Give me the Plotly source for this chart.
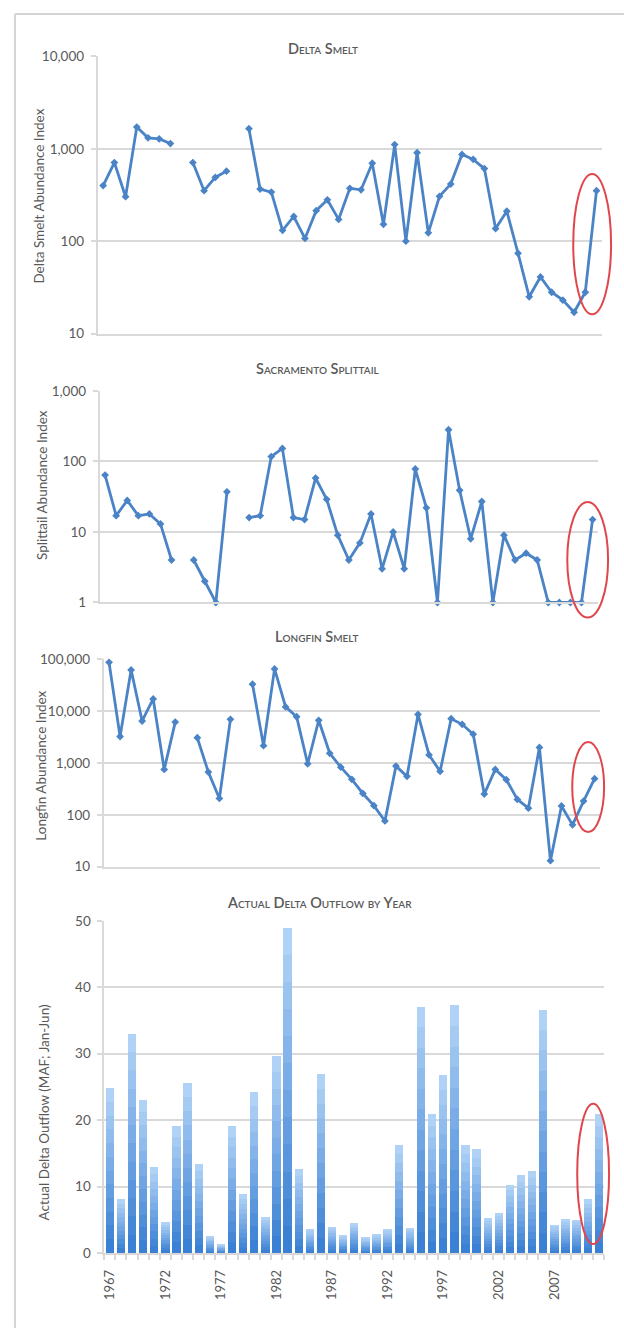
import plotly.graph_objects as go

# ---- data -------------------------------------------------------------
years = list(range(1967, 2012))

delta_smelt = [400, 710, 303, 1720, 1313, 1280, 1140, None, 710, 352, 490, 573, None,
               1650, 366, 340, 131, 185, 107, 214, 280, 172, 373, 360, 697, 152, 1110,
               100, 906, 123, 306, 415, 870, 769, 611, 137, 211, 74, 25, 41, 28, 23, 17,
               28, 352]

splittail = [64, 17, 28, 17, 18, 13, 4, None, 4, 2, 1, 37, None,
             16, 17, 117, 153, 16, 15, 58, 29, 9, 4, 7, 18, 3, 10,
             3, 78, 22, 1, 281, 39, 8, 27, 1, 9, 4, 5, 4, 1, 1, 1,
             1, 15]

longfin = [87700, 3250, 62700, 6470, 17260, 751, 6170, None, 3070, 668, 207, 6970, None,
           33300, 2160, 65500, 12100, 7820, 964, 6670, 1540, 832, 484, 258, 150, 76, 871,
           552, 8670, 1432, 689, 7160, 5580, 3600, 251, 751, 477, 198, 134, 2000, 13, 148,
           64, 184, 499]

outflow = [24.8, 8.1, 33.0, 23.1, 12.9, 4.6, 19.1, 25.6, 13.4, 2.5, 1.3, 19.1, 8.8,
           24.2, 5.4, 29.7, 49.0, 12.7, 3.6, 27.0, 3.9, 2.7, 4.5, 2.3, 2.8, 3.6, 16.3,
           3.7, 37.1, 20.9, 26.8, 37.3, 16.3, 15.6, 5.2, 6.0, 10.3, 11.7, 12.3, 36.6, 4.2,
           5.1, 5.0, 8.1, 20.9]

panel_titles = ["Delta Smelt", "Sacramento Splittail", "Longfin Smelt",
                "Actual Delta Outflow by Year"]
axis_titles = ["Delta Smelt Abundance Index", "Splittail Abundance Index",
               "Longfin Abundance Index", "Actual Delta Outflow (MAF; Jan-Jun)"]

smelt_ticks = [10, 100, 1000, 10000]
smelt_ticktext = ["10", "100", "1,000", "10,000"]
split_ticks = [1, 10, 100, 1000]
split_ticktext = ["1", "10", "100", "1,000"]
longfin_ticks = [10, 100, 1000, 10000, 100000]
longfin_ticktext = ["10", "100", "1,000", "10,000", "100,000"]
outflow_ticks = [0, 10, 20, 30, 40, 50]
year_ticks = list(range(1967, 2012, 5))

# ---- styling ----------------------------------------------------------
W, H = 624, 1336
FONT = "Lato"
GREY_TXT = "#595959"
GRID = "#d9d9d9"
LINE_BLUE = "#4a84c6"


def px_x(v):
    return v / W


def px_y(v):
    return 1 - v / H


# plot-area boxes in pixels: (left, right, top, bottom)
boxes = [
    (95, 602, 49, 329.5),
    (97, 598, 387.5, 601.7),
    (101, 600, 659.3, 869),
    (101.7, 604.3, 924, 1260),
]

fig = go.Figure()

line_series = [delta_smelt, splittail, longfin]
for i, series in enumerate(line_series):
    n = "" if i == 0 else str(i + 1)
    fig.add_trace(go.Scatter(
        x=years, y=series, mode="lines+markers",
        line=dict(color=LINE_BLUE, width=2.8),
        marker=dict(symbol="diamond", size=6, color=LINE_BLUE),
        connectgaps=False, cliponaxis=False, showlegend=False,
        xaxis="x" + n, yaxis="y" + n, hoverinfo="x+y",
    ))

# bars drawn as stacked slices to give each bar a vertical colour gradient
n_slices = 12
dark = (58, 128, 212)
light = (176, 210, 246)
for k in range(n_slices):
    t = k / (n_slices - 1)
    c = tuple(round(dark[j] + (light[j] - dark[j]) * t) for j in range(3))
    fig.add_trace(go.Bar(
        x=years, y=[v / n_slices for v in outflow],
        marker=dict(color="rgb(%d,%d,%d)" % c, line=dict(width=0)),
        showlegend=False, xaxis="x4", yaxis="y4", hoverinfo="skip",
    ))

layout = dict(
    width=W, height=H,
    margin=dict(l=0, r=0, t=0, b=0),
    paper_bgcolor="white", plot_bgcolor="white",
    font=dict(family=FONT, color=GREY_TXT, size=13),
    barmode="stack", bargap=0.25,
    showlegend=False,
)

y_specs = [
    dict(type="log", range=[1, 4], tickvals=smelt_ticks, ticktext=smelt_ticktext),
    dict(type="log", range=[0, 3], tickvals=split_ticks, ticktext=split_ticktext),
    dict(type="log", range=[1, 5], tickvals=longfin_ticks, ticktext=longfin_ticktext),
    dict(type="linear", range=[0, 50], tickvals=outflow_ticks),
]

for i, (l, r, t, b) in enumerate(boxes):
    n = "" if i == 0 else str(i + 1)
    xa = dict(
        domain=[px_x(l), px_x(r)], range=[1966.5, 2011.5],
        anchor="y" + n, showgrid=False, zeroline=False,
        showline=True, linecolor=GRID, linewidth=1.5,
        fixedrange=True,
    )
    if i < 3:
        xa.update(showticklabels=False, ticks="")
    else:
        xa.update(
            tickvals=year_ticks, ticktext=[str(y) for y in year_ticks],
            tickangle=-90, ticks="", ticklabelstandoff=10,
            tickfont=dict(size=13, color=GREY_TXT, family=FONT),
            minor=dict(tick0=0.5, dtick=1, ticks="outside", ticklen=5,
                       tickcolor=GRID, tickwidth=1.5, showgrid=False),
        )
    ya = dict(
        domain=[px_y(b), px_y(t)], anchor="x" + n,
        showgrid=True, gridcolor=GRID, gridwidth=1.5, zeroline=False,
        showline=True, linecolor=GRID, linewidth=1.5,
        ticks="outside", ticklen=5, tickcolor=GRID, tickwidth=1.5,
        tickfont=dict(size=13.5, color=GREY_TXT, family=FONT),
        ticklabelstandoff=4, fixedrange=True,
    )
    ya.update(y_specs[i])
    layout["xaxis" + n] = xa
    layout["yaxis" + n] = ya

fig.update_layout(**layout)

# panel titles (small caps) and rotated axis titles
title_pos = [(322, 41), (317, 365), (316, 636), (318, 905)]
ytitle_pos = [(36, 190), (39, 483), (38, 767), (41, 1118)]
for i in range(4):
    tx, ty = title_pos[i]
    fig.add_annotation(
        x=px_x(tx), y=px_y(ty), xref="paper", yref="paper",
        text=panel_titles[i], showarrow=False,
        xanchor="center", yanchor="middle",
        font=dict(family=FONT, size=14.5, color=GREY_TXT, variant="small-caps",
                  weight=600),
    )
    ax_, ay_ = ytitle_pos[i]
    fig.add_annotation(
        x=px_x(ax_), y=px_y(ay_), xref="paper", yref="paper",
        text=axis_titles[i], showarrow=False, textangle=-90,
        xanchor="center", yanchor="middle",
        font=dict(family=FONT, size=13.5, color=GREY_TXT),
    )

# red ellipses around the most recent years
ellipses = [(573, 611, 168, 310), (567, 608, 500, 617),
            (572, 604, 743, 834), (577, 609, 1109, 1251)]
for (x0, x1, y0, y1) in ellipses:
    fig.add_shape(type="circle", xref="paper", yref="paper",
                  x0=px_x(x0), x1=px_x(x1), y0=px_y(y1), y1=px_y(y0),
                  line=dict(color="#e0474c", width=2))

# page frame: top and left rules
fig.add_shape(type="line", xref="paper", yref="paper",
              x0=px_x(12), x1=1, y0=px_y(6), y1=px_y(6),
              line=dict(color="#d4d4d4", width=2))
fig.add_shape(type="line", xref="paper", yref="paper",
              x0=px_x(12), x1=px_x(12), y0=0, y1=px_y(6),
              line=dict(color="#d4d4d4", width=2))

fig.write_html("out.html")
